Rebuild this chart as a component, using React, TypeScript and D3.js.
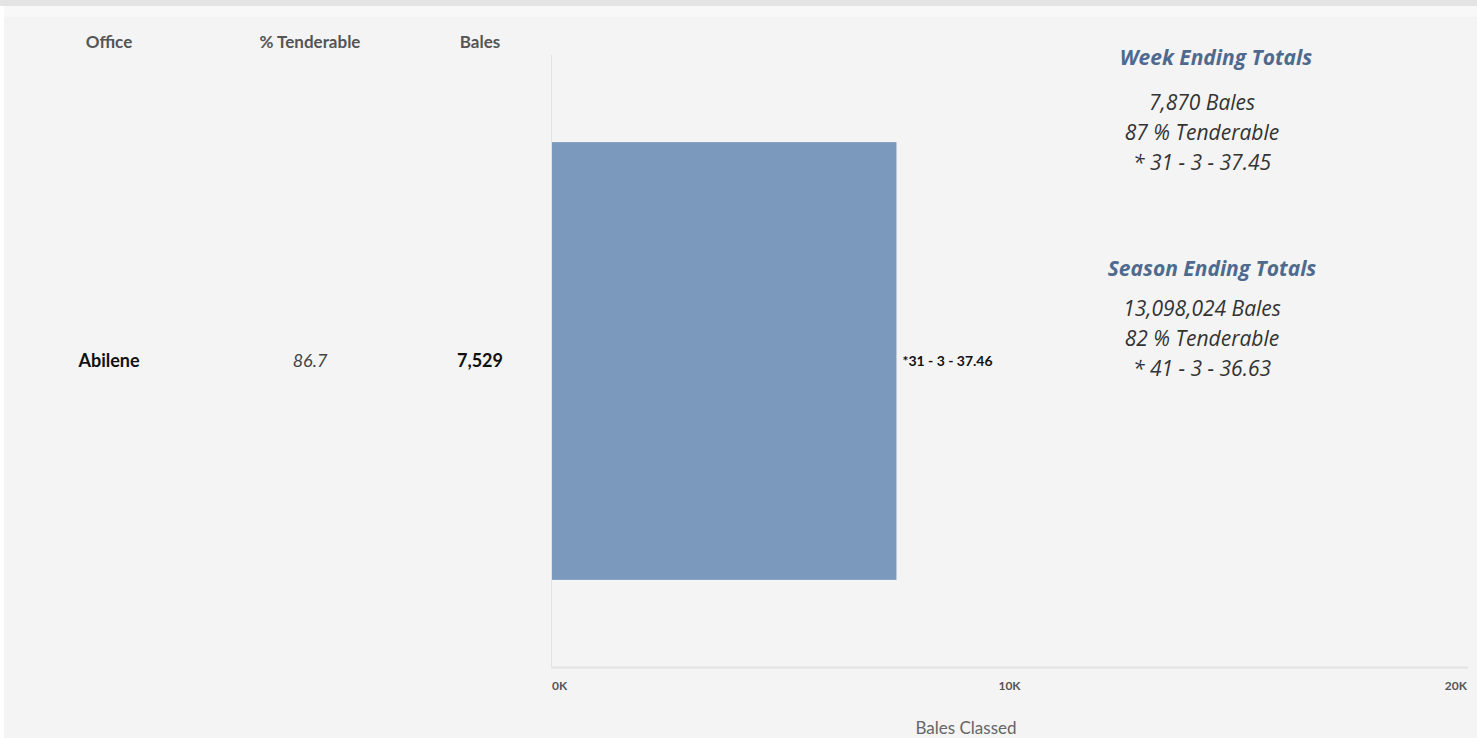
import React from "react";
import * as d3 from "d3";

const offices = ["Abilene"];
const tenderable = [86.7];
const bales = [7529];
const labels = ["*31 - 3 -  37.46"];
const ticks = [0, 10000, 20000];
const weekLines = ["7,870 Bales", "87 % Tenderable", "* 31 - 3 - 37.45"];
const seasonLines = ["13,098,024 Bales", "82 % Tenderable", "* 41 - 3 - 36.63"];

export default function App() {
  const x = d3.scaleLinear().domain([0, 20000]).range([552, 1467]);
  const y = d3.scaleBand().domain(offices).range([55, 667]).paddingInner(0).paddingOuter(0.199);
  const fmt = d3.format(",");
  const font = "Lato, 'Open Sans', sans-serif";
  const right = "'Open Sans', sans-serif";
  return (
    <svg width={1477} height={738} style={{ position: "absolute", left: 0, top: 0 }} fontFamily={font}>
      <rect width={1477} height={738} fill="#ffffff" />
      <rect x={4} y={0} width={1473} height={738} fill="#f4f4f4" />
      <rect x={0} y={0} width={1477} height={6} fill="#e4e4e4" />
      <rect x={4} y={6} width={1473} height={11} fill="#f8f8f8" />
      <g fontSize={17} fontWeight="bold" fill="#555" textAnchor="middle">
        <text x={109} y={48}>Office</text>
        <text x={310} y={48}>% Tenderable</text>
        <text x={480} y={48}>Bales</text>
      </g>
      {offices.map((o, i) => {
        const cy = y(o)! + y.bandwidth() / 2;
        return (
          <g key={o}>
            <text x={109} y={cy + 6} textAnchor="middle" fontSize={18} fontWeight="bold" fill="#111">{o}</text>
            <text x={310} y={cy + 6} textAnchor="middle" fontSize={18} fontStyle="italic" fill="#444">{tenderable[i]}</text>
            <text x={480} y={cy + 6} textAnchor="middle" fontSize={18} fontWeight="bold" fill="#111">{fmt(bales[i])}</text>
            <rect x={x(0)} y={y(o)} width={x(bales[i]) - x(0)} height={y.bandwidth()} fill="#7b99bd" />
            <text x={x(bales[i]) + 6} y={cy + 5} fontSize={14} fontWeight="bold" fill="#111">{labels[i]}</text>
          </g>
        );
      })}
      <line x1={551.5} x2={551.5} y1={55} y2={667} stroke="#e2e2e2" />
      <line x1={551} x2={1468} y1={667.5} y2={667.5} stroke="#e2e2e2" strokeWidth={2} />
      {ticks.map((t, i) => (
        <text key={t} x={x(t)} y={690} fontSize={12} fontWeight="bold" fill="#555"
          textAnchor={i === 0 ? "start" : i === ticks.length - 1 ? "end" : "middle"}>
          {d3.format("~s")(t).replace("k", "K").replace(/^0$/, "0K")}
        </text>
      ))}
      <text x={966} y={734} textAnchor="middle" fontSize={17} fill="#666">Bales Classed</text>
      <g textAnchor="middle" fontStyle="italic" fontFamily={right}>
        <text x={1216} y={65} fontSize={21} fontWeight="bold" fill="#4e6a8e">Week Ending Totals</text>
        {weekLines.map((l, i) => (
          <text key={l} x={1202} y={110 + i * 30} fontSize={21} fill="#333">{l}</text>
        ))}
        <text x={1212} y={276} fontSize={21} fontWeight="bold" fill="#4e6a8e">Season Ending Totals</text>
        {seasonLines.map((l, i) => (
          <text key={l} x={1202} y={316 + i * 30} fontSize={21} fill="#333">{l}</text>
        ))}
      </g>
    </svg>
  );
}
